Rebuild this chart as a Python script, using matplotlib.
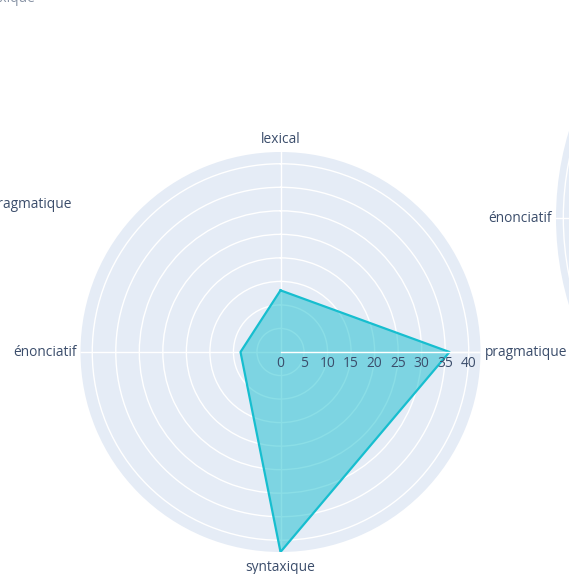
#!/usr/bin/env python3
"""Radar chart of annotation shares per category (lexical / pragmatique / syntaxique / énonciatif)."""

import matplotlib

matplotlib.use("Agg")
import matplotlib.pyplot as plt
import numpy as np
from matplotlib.transforms import offset_copy

categories = ["lexical", "pragmatique", "syntaxique", "énonciatif"]
values = [13.1, 35.9, 42.5, 8.5]
radial_ticks = [0, 5, 10, 15, 20, 25, 30, 35, 40]

W, H, DPI = 569, 574, 100
BG = "#E5ECF6"
FONT_COLOR = "#3b4d6b"
TRACE = "#17becf"
FONT_PT = 13.8 * 72 / DPI

plt.rcParams["font.family"] = ["Open Sans", "DejaVu Sans"]


def polar_at(fig, cx, cy, radius):
    # pixel centre (top-left origin) and radius -> polar axes rectangle
    rect = [(cx - radius) / W, (H - cy - radius) / H, 2 * radius / W, 2 * radius / H]
    ax = fig.add_axes(rect, projection="polar")
    ax.set_theta_zero_location("N")
    ax.set_theta_direction(-1)
    ax.set_facecolor(BG)
    ax.spines["polar"].set_visible(False)
    ax.grid(True, color="white", linewidth=1)
    ax.tick_params(labelleft=False, labelbottom=False, length=0)
    return ax


def angular_labels(fig, ax, thetas, rmax, pads, which=None):
    for i, (theta, label, pad) in enumerate(zip(thetas, categories, pads)):
        if which is not None and i not in which:
            continue
        s, c = np.sin(theta), np.cos(theta)
        ha = "left" if s > 0.3 else ("right" if s < -0.3 else "center")
        va = "bottom" if c > 0.3 else ("top" if c < -0.3 else "center")
        tr = offset_copy(ax.transData, fig=fig, x=s * pad, y=c * pad, units="dots")
        ax.text(theta, rmax, label, transform=tr, ha=ha, va=va,
                fontsize=FONT_PT, color=FONT_COLOR, clip_on=False)


fig = plt.figure(figsize=(W / DPI, H / DPI), dpi=DPI)
fig.patch.set_facecolor("white")

thetas = np.deg2rad(np.arange(len(categories)) * 360 / len(categories))
rmax = max(values)

# main radar
ax = polar_at(fig, 280.5, 352, 200)
ax.set_ylim(0, rmax)
ax.set_rgrids(radial_ticks[1:])
ax.set_thetagrids(np.rad2deg(thetas), labels=[""] * len(categories))
ax.tick_params(labelleft=False, labelbottom=False)

closed_t = np.append(thetas, thetas[0])
closed_r = np.append(values, values[0])
ax.fill(closed_t, closed_r, color=TRACE, alpha=0.5, linewidth=0, zorder=3)
ax.plot(closed_t, closed_r, color=TRACE, linewidth=1.6, zorder=4)

# radial axis line and its tick labels sit above the trace
ax.plot([np.pi / 2, np.pi / 2], [0, rmax], color="white", linewidth=1, zorder=5)
tick_tr = offset_copy(ax.transData, fig=fig, x=0, y=-4, units="dots")
for t in radial_ticks:
    ax.text(np.pi / 2, t, str(t), transform=tick_tr, ha="center", va="top",
            fontsize=FONT_PT, color=FONT_COLOR, zorder=6, clip_on=False)

angular_labels(fig, ax, thetas, rmax, pads=[5, 4, 8, 4])

# neighbouring radars, mostly outside the frame
for (cx, cy), shown in [((556 + 300, 218), [3]), ((-14 - 300, 205), [1])]:
    nb = polar_at(fig, cx, cy, 300)
    nb.set_ylim(0, 41)
    nb.set_rgrids(radial_ticks[1:])
    nb.set_thetagrids(np.rad2deg(thetas), labels=[""] * len(categories))
    nb.tick_params(labelleft=False, labelbottom=False)
    angular_labels(fig, nb, thetas, 41, pads=[5, 4, 8, 4], which=shown)

# label of the radar above, only its lowest strokes reach the frame
fig.text(0, 1 - 2 / H, "syntaxique", ha="center", va="baseline",
         fontsize=FONT_PT, color=FONT_COLOR, alpha=0.6)

fig.savefig("out.png", dpi=DPI, facecolor="white")
